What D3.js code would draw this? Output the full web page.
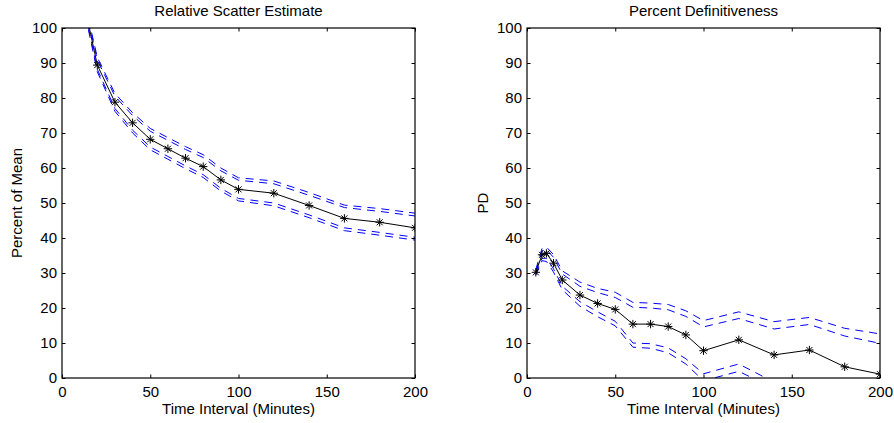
<!DOCTYPE html>
<html>
<head>
<meta charset="utf-8">
<script src="https://cdn.jsdelivr.net/npm/d3@7"></script>
<style>
  html, body { margin: 0; padding: 0; background: #fff; }
  svg { display: block; }
  text { font-family: "Liberation Sans", Arial, Helvetica, sans-serif; fill: #000; }
</style>
</head>
<body>
<svg id="chart" width="894" height="423"></svg>
<script>
// ---------------- data ----------------
const xTicks = [0, 50, 100, 150, 200];
const yTicks = [0, 10, 20, 30, 40, 50, 60, 70, 80, 90, 100];

// Left panel: Relative Scatter Estimate (Percent of Mean)
const rsTime   = [15, 20, 30, 40, 50, 60, 70, 80, 90, 100, 120, 140, 160, 180, 200];
const rsMean   = [101.2, 89.4, 78.8, 72.9, 68.2, 65.5, 62.8, 60.4, 56.6, 53.9, 52.8, 49.3, 45.6, 44.5, 42.9];
const rsUpper1 = [102.6, 91.6, 81.3, 75.8, 71.3, 68.7, 66.1, 63.8, 60.0, 57.2, 56.3, 53.0, 49.4, 48.4, 47.1];
const rsUpper2 = [102.0, 90.9, 80.5, 75.0, 70.5, 67.9, 65.3, 63.0, 59.2, 56.5, 55.5, 52.2, 48.7, 47.6, 46.3];
const rsLower1 = [100.0, 88.2, 77.0, 70.8, 66.0, 63.3, 60.6, 58.1, 54.2, 51.3, 50.0, 46.6, 42.9, 41.6, 40.2];
const rsLower2 = [99.4, 87.5, 76.2, 70.0, 65.2, 62.5, 59.8, 57.3, 53.4, 50.6, 49.2, 45.8, 42.1, 40.8, 39.4];

// Right panel: Percent Definitiveness (PD)
const pdTime   = [5, 8.5, 11, 15, 20, 30, 40, 50, 60, 70, 80, 90, 100, 120, 140, 160, 180, 200];
const pdMean   = [30.2, 35.2, 35.6, 32.8, 28.0, 23.7, 21.3, 19.6, 15.4, 15.4, 14.7, 12.3, 7.8, 10.9, 6.6, 8.0, 3.2, 1.1];
const pdUpper1 = [31.0, 37.0, 37.4, 35.3, 30.6, 27.4, 25.6, 24.5, 21.6, 21.4, 21.0, 19.2, 16.4, 18.9, 16.1, 17.3, 14.2, 12.6];
const pdUpper2 = [30.6, 36.3, 36.7, 34.5, 29.7, 26.2, 24.4, 23.0, 20.2, 20.0, 19.5, 17.6, 14.6, 17.0, 14.0, 15.3, 12.0, 9.9];
const pdLower1 = [29.8, 34.2, 34.2, 31.2, 26.2, 21.8, 18.9, 16.2, 10.0, 9.8, 8.6, 5.5, 1.2, 4.0, -1.2, -0.5, -6.0, -9.0];
const pdLower2 = [29.4, 33.5, 33.3, 30.3, 25.2, 20.5, 17.5, 14.9, 8.8, 8.5, 7.2, 4.0, -0.8, 1.9, -3.0, -2.5, -8.0, -11.0];

// ---------------- drawing ----------------
const svg = d3.select("#chart");
const FONT = 15;

const panels = [
  { left: 62, title: "Relative Scatter Estimate", ylabel: "Percent of Mean", labelX: 22,
    t: rsTime, mean: rsMean, bands: [rsUpper1, rsUpper2, rsLower1, rsLower2], id: "c1" },
  { left: 527, title: "Percent Definitiveness", ylabel: "PD", labelX: 488,
    t: pdTime, mean: pdMean, bands: [pdUpper1, pdUpper2, pdLower1, pdLower2], id: "c2" }
];

const W = 353, TOP = 28, H = 350;

panels.forEach(p => {
  const g = svg.append("g").attr("transform", `translate(${p.left},${TOP})`);
  const x = d3.scaleLinear().domain([0, 200]).range([0, W]);
  const y = d3.scaleLinear().domain([0, 100]).range([H, 0]);

  g.append("clipPath").attr("id", p.id)
    .append("rect").attr("x", 0).attr("y", 0).attr("width", W).attr("height", H);

  const tick = -3.5;
  const styleAxis = sel => {
    sel.selectAll("path.domain").remove();
    sel.selectAll(".tick line").attr("stroke", "#000").attr("stroke-width", 1);
    sel.selectAll(".tick text").attr("font-size", FONT)
      .attr("font-family", '"Liberation Sans", Arial, sans-serif').attr("fill", "#000");
  };

  g.append("g").attr("transform", `translate(0,${H})`)
    .call(d3.axisBottom(x).tickValues(xTicks).tickSizeInner(tick).tickSizeOuter(0).tickPadding(8))
    .call(styleAxis);
  g.append("g")
    .call(d3.axisTop(x).tickValues(xTicks).tickSizeInner(tick).tickSizeOuter(0).tickFormat(""))
    .call(styleAxis);
  g.append("g")
    .call(d3.axisLeft(y).tickValues(yTicks).tickSizeInner(tick).tickSizeOuter(0).tickPadding(5))
    .call(styleAxis);
  g.append("g").attr("transform", `translate(${W},0)`)
    .call(d3.axisRight(y).tickValues(yTicks).tickSizeInner(tick).tickSizeOuter(0).tickFormat(""))
    .call(styleAxis);

  const data = g.append("g").attr("clip-path", `url(#${p.id})`);

  p.bands.forEach(b => {
    const line = d3.line().x((d, i) => x(p.t[i])).y(d => y(d));
    data.append("path").datum(b)
      .attr("d", line)
      .attr("fill", "none")
      .attr("stroke", "#0000ff")
      .attr("stroke-width", 1)
      .attr("stroke-dasharray", "8,6");
  });

  const mline = d3.line().x((d, i) => x(p.t[i])).y(d => y(d));
  data.append("path").datum(p.mean)
    .attr("d", mline)
    .attr("fill", "none")
    .attr("stroke", "#000")
    .attr("stroke-width", 1);

  const r = 4.2, rd = 3;
  const star = `M${-r},0H${r}M0,${-r}V${r}M${-rd},${-rd}L${rd},${rd}M${-rd},${rd}L${rd},${-rd}`;
  data.selectAll("path.star").data(p.mean).enter().append("path")
    .attr("class", "star")
    .attr("transform", (d, i) => `translate(${x(p.t[i])},${y(d)})`)
    .attr("d", star)
    .attr("fill", "none")
    .attr("stroke", "#000")
    .attr("stroke-width", 1);

  // box
  g.append("rect").attr("x", 0).attr("y", 0).attr("width", W).attr("height", H)
    .attr("fill", "none").attr("stroke", "#000").attr("stroke-width", 1.2);

  // title
  g.append("text").attr("x", W / 2).attr("y", 16 - TOP)
    .attr("text-anchor", "middle").attr("font-size", FONT).text(p.title);
  // x label
  g.append("text").attr("x", W / 2).attr("y", 413.5 - TOP)
    .attr("text-anchor", "middle").attr("font-size", FONT).text("Time Interval (Minutes)");
  // y label
  svg.append("text")
    .attr("transform", `translate(${p.labelX},${TOP + H / 2}) rotate(-90)`)
    .attr("text-anchor", "middle").attr("font-size", FONT).text(p.ylabel);
});
</script>
</body>
</html>
